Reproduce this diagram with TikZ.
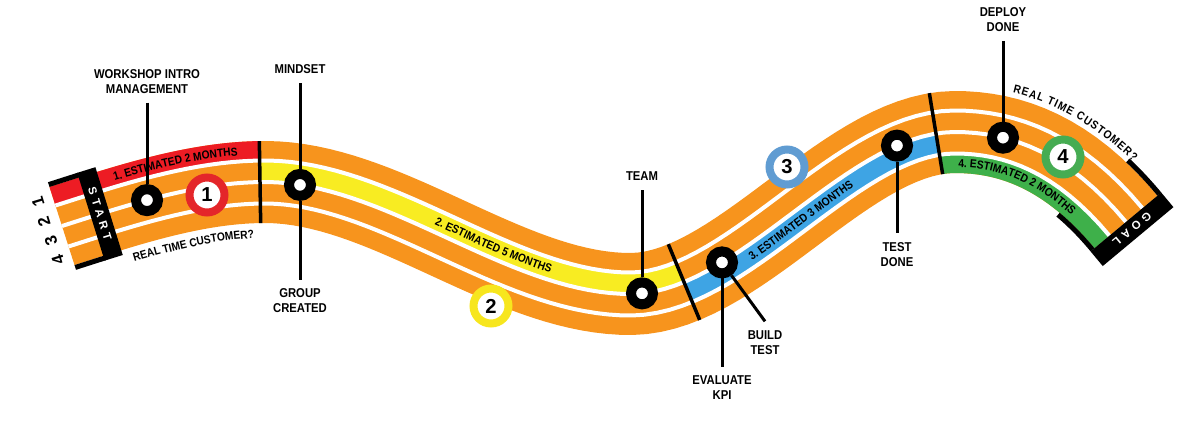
\documentclass[tikz,border=0pt]{standalone}
\usepackage{fontspec}
\setmainfont{Liberation Sans}
\newfontfamily\condfont{Liberation Sans}[FakeStretch=0.88]
\usetikzlibrary{decorations.text}

\definecolor{trackorange}{RGB}{247,148,29}
\definecolor{lanered}{RGB}{237,28,36}
\definecolor{laneyellow}{RGB}{248,236,34}
\definecolor{laneblue}{RGB}{62,164,228}
\definecolor{lanegreen}{RGB}{62,176,74}
\definecolor{ringred}{RGB}{228,38,42}
\definecolor{ringyellow}{RGB}{247,230,30}
\definecolor{ringblue}{RGB}{96,156,210}
\definecolor{ringgreen}{RGB}{70,172,82}

\newcommand{\lanefont}{\condfont\fontsize{6.6}{7}\selectfont\bfseries}

\begin{document}
\begin{tikzpicture}[
        x=0.02cm, y=-0.02cm,
        declare function={
            sm(\uu)=3*(\uu)*(\uu)-2*(\uu)*(\uu)*(\uu);
            dsm(\uu)=6*(\uu)*(1-(\uu));
            ha(\uu)=(\uu)*(\uu)*(\uu)-2*(\uu)*(\uu)+(\uu);
            dha(\uu)=3*(\uu)*(\uu)-4*(\uu)+1;
            hb(\uu)=(\uu)*(\uu)*(\uu)-(\uu)*(\uu);
            dhb(\uu)=3*(\uu)*(\uu)-2*(\uu);
            ua(\tp)=min(max(((\tp)-62)/203,0),1);
            ub(\tp)=min(max(((\tp)-265)/365,0),1);
            uc(\tp)=min(max(((\tp)-630)/325,0),1);
            ud(\tp)=min(max(((\tp)-955)/171,0),1);
            trk(\tp)=226-44*sm(ua(\tp))-64.96*ha(ua(\tp))+112*sm(ub(\tp))-162*sm(uc(\tp))+90*sm(ud(\tp))+205.2*hb(ud(\tp));
            dtrk(\tp)=(-44*dsm(ua(\tp))-64.96*dha(ua(\tp)))/203+112*dsm(ub(\tp))/365-162*dsm(uc(\tp))/325+(90*dsm(ud(\tp))+205.2*dhb(ud(\tp)))/171;
            nrm(\tp)=sqrt(1+dtrk(\tp)*dtrk(\tp));
            ox(\tp,\dd)=(\tp)+(\dd)*dtrk(\tp)/nrm(\tp);
            oy(\tp,\dd)=trk(\tp)-(\dd)/nrm(\tp);
        },
        marker/.style={circle, draw=black, line width=0.2cm, fill=white, minimum size=0.44cm, inner sep=0pt},
        badge/.style={circle, line width=0.16cm, fill=white, minimum size=0.7cm, inner sep=0pt, font=\fontsize{11.5}{11.5}\selectfont\bfseries},
        lbl/.style={align=center, inner sep=5pt, font=\condfont\fontsize{7.3}{8.6}\selectfont\bfseries},
        callout/.style={draw=black, line width=0.06cm},
        bar/.style={draw=black, line width=0.07cm},
        endbox/.style={fill=black, text=white, inner sep=0pt, minimum width=1.84cm, minimum height=0.38cm, font=\fontsize{6.5}{7}\selectfont\bfseries\addfontfeature{LetterSpace=40}},
        lanenum/.style={rotate=107, inner sep=1pt, font=\fontsize{9.5}{9.5}\selectfont\bfseries},
        lanetext/.style={decorate, decoration={text along path, text align=center}}
    ]
        \useasboundingbox (0,0) rectangle (1200,423);
        \fill[trackorange] plot[domain=62:1126, samples=100] ({ox(\x,41)},{oy(\x,41)}) -- plot[domain=1126:62, samples=100] ({ox(\x,-41)},{oy(\x,-41)}) -- cycle;
        \fill[lanered] plot[domain=62:260, samples=25] ({ox(\x,41)},{oy(\x,41)}) -- plot[domain=260:62, samples=25] ({ox(\x,21.5)},{oy(\x,21.5)}) -- cycle;
        \fill[laneyellow] plot[domain=260:684, samples=45] ({ox(\x,21.5)},{oy(\x,21.5)}) -- plot[domain=684:260, samples=45] ({ox(\x,0)},{oy(\x,0)}) -- cycle;
        \fill[laneblue] plot[domain=684:936, samples=30] ({ox(\x,0)},{oy(\x,0)}) -- plot[domain=936:684, samples=30] ({ox(\x,-21.5)},{oy(\x,-21.5)}) -- cycle;
        \fill[lanegreen] plot[domain=936:1126, samples=30] ({ox(\x,-21.5)},{oy(\x,-21.5)}) -- plot[domain=1126:936, samples=30] ({ox(\x,-41)},{oy(\x,-41)}) -- cycle;
        \foreach \off in {21.5,0,-21.5}
            \draw[white, line width=0.08cm] plot[domain=62:1126, samples=100] ({ox(\x,\off)},{oy(\x,\off)});
        \foreach \b in {260,684,936}
            \draw[bar] ({ox(\b,41)},{oy(\b,41)}) -- ({ox(\b,-41)},{oy(\b,-41)});
        \fill[black] plot[domain=62:92, samples=6] ({ox(\x,46)},{oy(\x,46)}) -- plot[domain=92:62, samples=6] ({ox(\x,41)},{oy(\x,41)}) -- cycle;
        \fill[black] plot[domain=62:92, samples=6] ({ox(\x,-41)},{oy(\x,-41)}) -- plot[domain=92:62, samples=6] ({ox(\x,-46)},{oy(\x,-46)}) -- cycle;
        \fill[black] plot[domain=1098:1126, samples=6] ({ox(\x,46)},{oy(\x,46)}) -- plot[domain=1126:1098, samples=6] ({ox(\x,41)},{oy(\x,41)}) -- cycle;
        \fill[black] plot[domain=1086:1126, samples=8] ({ox(\x,-41)},{oy(\x,-41)}) -- plot[domain=1126:1086, samples=8] ({ox(\x,-46)},{oy(\x,-46)}) -- cycle;
        \node[endbox, rotate={-90-atan(dtrk(100))}] (start) at ({ox(100,0)},{oy(100,0)}) {START};
        \node[endbox, rotate={-90-atan(dtrk(1126))}] (goal) at ({ox(1126,0)+6},{oy(1126,0)+7.3}) {GOAL};
        \node[lanenum] (n1) at (38,202) {1};
        \node[lanenum] (n2) at (44,222) {2};
        \node[lanenum] (n3) at (51,241) {3};
        \node[lanenum] (n4) at (58,260) {4};
        \path[lanetext, decoration={text={|\lanefont|1. ESTIMATED 2 MONTHS}}] plot[domain=100:262, samples=30] ({ox(\x,27.4)},{oy(\x,27.4)});
        \path[lanetext, decoration={text={|\lanefont|2. ESTIMATED 5 MONTHS}}] plot[domain=405:577, samples=30] ({ox(\x,6.9)},{oy(\x,6.9)});
        \path[lanetext, decoration={text={|\lanefont|3. ESTIMATED 3 MONTHS}}] plot[domain=715:877, samples=30] ({ox(\x,-14.7)},{oy(\x,-14.7)});
        \path[lanetext, decoration={text={|\lanefont|4. ESTIMATED 2 MONTHS}}] plot[domain=925:1115, samples=30] ({ox(\x,-35.2)},{oy(\x,-35.2)});
        \path[lanetext, decoration={text={|\lanefont|REAL TIME CUSTOMER?}}] plot[domain=110:262, samples=25] ({ox(\x,-56)},{oy(\x,-56)});
        \path[decorate, decoration={text along path, text align=fit to path, text={|\lanefont|REAL TIME CUSTOMER?}}] plot[domain=1002:1101, samples=25] ({ox(\x,46)},{oy(\x,46)});
        \node[marker] (workshop) at (147,{trk(147)}) {};
        \node[marker] (mindset) at (300,{trk(300)}) {};
        \node[marker] (team) at (642,{trk(642)}) {};
        \node[marker] (kpi) at (722,{trk(722)}) {};
        \node[marker] (testdone) at (897,{trk(897)}) {};
        \node[marker] (deploy) at (1003,{trk(1003)}) {};
        \node[badge, draw=ringred] (b1) at (207,195) {1};
        \node[badge, draw=ringyellow] (b2) at (491,306) {2};
        \node[badge, draw=ringblue] (b3) at (787,167) {3};
        \node[badge, draw=ringgreen] (b4) at (1063,157) {4};
        \node[lbl] (lworkshop) at (147,81.5) {WORKSHOP INTRO\\MANAGEMENT};
        \node[lbl] (lmindset) at (300,69.5) {MINDSET};
        \node[lbl] (lgroup) at (300,301) {GROUP\\CREATED};
        \node[lbl] (lteam) at (642,176.5) {TEAM};
        \node[lbl] (lkpi) at (722,388) {EVALUATE\\KPI};
        \node[lbl] (lbuild) at (765,342.5) {BUILD\\TEST};
        \node[lbl] (ltest) at (897,254.5) {TEST\\DONE};
        \node[lbl] (ldeploy) at (1003,19.7) {DEPLOY\\DONE};
        \draw[callout] (lworkshop.south) -- (workshop);
        \draw[callout] (lmindset.south) -- (mindset);
        \draw[callout] (mindset) -- (lgroup.north);
        \draw[callout] (lteam.south) -- (team);
        \draw[callout] (kpi) -- (lkpi.north);
        \draw[callout] (kpi) -- (lbuild.north);
        \draw[callout] (testdone) -- (ltest.north);
        \draw[callout] (ldeploy.south) -- (deploy);
    \end{tikzpicture}
\end{document}
